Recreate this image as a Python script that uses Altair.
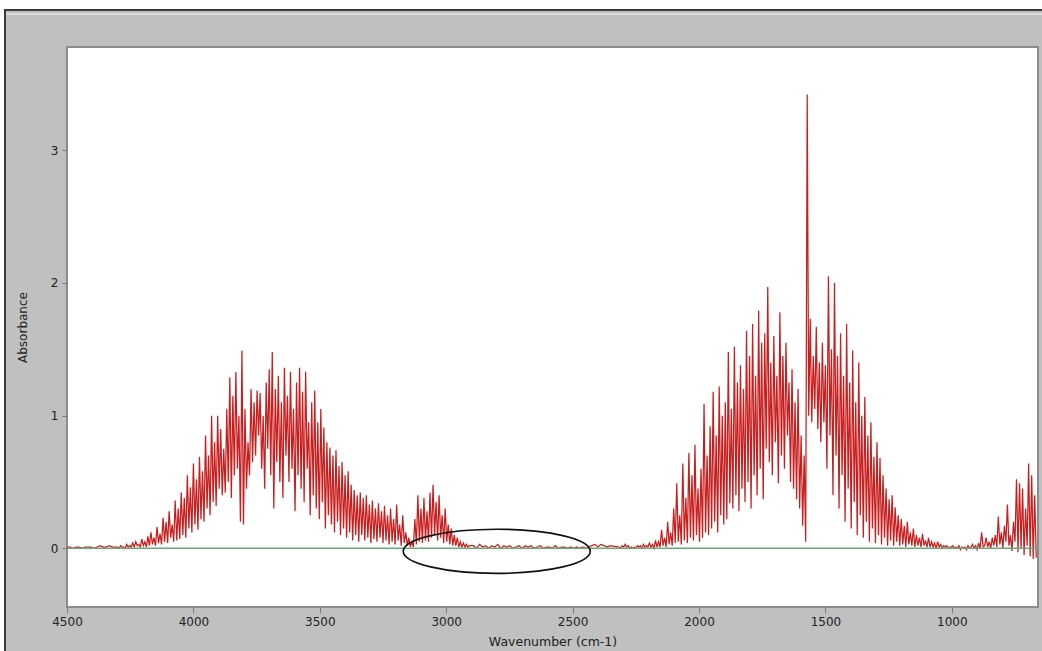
import altair as alt
import pandas as pd

# ---------------- data ----------------
# Each block: absorbance values on a regular wavenumber grid (start, step)
edge_start, edge_step = 4500, -12
edge_abs = [0.01, 0.01, 0.00, 0.01, 0.01, 0.00, 0.01, 0.01, 0.01, 0.00,
            0.01, 0.02, 0.01, 0.01, 0.02, 0.01]

band1_start, band1_step = 4300, -6
band1_abs = [
    0.01, 0.00, 0.02, 0.01, 0.01, 0.00, 0.03, 0.01, 0.02, 0.01,
    0.04, 0.01, 0.05, 0.02, 0.03, 0.01, 0.07, 0.02, 0.05, 0.01,
    0.09, 0.02, 0.12, 0.03, 0.08, 0.02, 0.16, 0.04, 0.11, 0.03,
    0.23, 0.05, 0.20, 0.04, 0.28, 0.08, 0.18, 0.05, 0.36, 0.06,
    0.30, 0.07, 0.42, 0.10, 0.38, 0.08, 0.55, 0.15, 0.46, 0.12,
    0.64, 0.18, 0.52, 0.14, 0.69, 0.22, 0.58, 0.20, 0.85, 0.30,
    0.70, 0.25, 1.00, 0.35, 0.80, 0.32, 1.00, 0.45, 0.90, 0.40,
    0.75, 0.42, 1.05, 0.50, 1.29, 0.38, 1.15, 0.55, 1.33, 0.60,
    1.00, 0.20, 1.49, 0.18, 1.05, 0.45, 0.80, 0.55, 1.20, 0.65,
    1.10, 0.70, 1.19, 0.85, 1.17, 0.60, 1.00, 0.45, 1.25, 0.75,
    1.35, 0.55, 1.48, 0.30, 1.20, 0.65, 1.30, 0.50, 1.10, 0.38,
    1.36, 0.70, 1.15, 0.50, 1.33, 0.60, 1.05, 0.28, 1.25, 0.55,
    1.36, 0.45, 1.18, 0.35, 1.33, 0.60, 0.95, 0.25, 1.10, 0.40,
    1.19, 0.30, 0.95, 0.22, 1.05, 0.35, 0.91, 0.15, 0.80, 0.25,
    0.76, 0.18, 0.70, 0.12, 0.74, 0.20, 0.62, 0.10, 0.65, 0.15,
    0.55, 0.08, 0.58, 0.12, 0.48, 0.06, 0.44, 0.10, 0.40, 0.05,
    0.42, 0.10, 0.38, 0.06, 0.40, 0.08, 0.33, 0.04, 0.36, 0.07,
    0.30, 0.05, 0.34, 0.08, 0.28, 0.04, 0.32, 0.06, 0.25, 0.03,
    0.30, 0.05, 0.22, 0.03, 0.33, 0.06, 0.18, 0.02, 0.25, 0.04,
    0.12, 0.02, 0.08, 0.01, 0.05, 0.01, 0.22, 0.03, 0.40, 0.05,
    0.30, 0.04, 0.38, 0.06, 0.28, 0.05, 0.42, 0.08, 0.48, 0.10,
    0.35, 0.06, 0.40, 0.08, 0.25, 0.04, 0.30, 0.05, 0.18, 0.03,
    0.15, 0.02, 0.10, 0.02, 0.08, 0.01, 0.05, 0.01, 0.04, 0.01,
    0.03, 0.01, 0.02,
]

gap_start, gap_step = 2892, -12
gap_abs = [0.02, 0.00, 0.03, 0.01, 0.02, 0.00, 0.02, 0.01, 0.03, 0.00,
           0.02, 0.01, 0.02, 0.00, 0.01, 0.02, 0.00, 0.02, 0.01, 0.02,
           0.00, 0.01, 0.02, 0.00, 0.01, 0.01, 0.00, 0.02, 0.00, 0.01,
           0.01, 0.00, 0.01, 0.00, 0.01, 0.00, 0.01, 0.00, 0.01, 0.02,
           0.03, 0.01, 0.03, 0.02, 0.01, 0.02]

band2_start, band2_step = 2316, -6
band2_abs = [
    0.01, 0.00, 0.02, 0.01, 0.03, 0.01, 0.02, 0.00, 0.01, 0.00,
    0.01, 0.00, 0.02, 0.01, 0.02, 0.00, 0.03, 0.01, 0.02, 0.01,
    0.04, 0.01, 0.03, 0.00, 0.06, 0.01, 0.05, 0.01, 0.14, 0.02,
    0.08, 0.01, 0.20, 0.03, 0.12, 0.02, 0.30, 0.04, 0.49, 0.05,
    0.25, 0.03, 0.64, 0.06, 0.38, 0.04, 0.72, 0.08, 0.55, 0.06,
    0.78, 0.10, 0.45, 0.05, 0.60, 0.08, 1.09, 0.12, 0.70, 0.10,
    0.92, 0.15, 1.18, 0.20, 0.85, 0.12, 1.22, 0.25, 1.00, 0.18,
    1.10, 0.22, 1.48, 0.34, 1.05, 0.30, 1.52, 0.40, 1.25, 0.28,
    1.38, 0.45, 1.20, 0.35, 1.64, 0.50, 1.45, 0.30, 1.69, 0.55,
    1.30, 0.40, 1.79, 0.60, 1.55, 0.37, 1.62, 0.75, 1.97, 0.65,
    1.40, 0.55, 1.60, 0.80, 1.30, 0.49, 1.78, 0.70, 1.45, 0.60,
    1.55, 0.85, 1.25, 0.50, 1.35, 0.45, 1.10, 0.37, 1.20, 0.30,
    0.85, 0.17, 0.70, 0.05,
    3.42,
    1.00, 1.73, 0.95, 1.45, 1.05, 1.67, 0.90, 1.40, 0.80, 1.55,
    0.95, 1.38, 0.60, 2.05, 0.85, 1.50, 0.40, 2.00, 0.70, 1.45,
    0.30, 1.62, 0.55, 1.30, 0.20, 1.69, 0.45, 1.25, 0.15, 1.49,
    0.35, 1.10, 0.10, 1.40, 0.25, 1.00, 0.08, 1.14, 0.20, 0.85,
    0.05, 0.95, 0.15, 0.69, 0.04, 0.80, 0.10, 0.68, 0.03, 0.55,
    0.08, 0.45, 0.02, 0.37, 0.06, 0.40, 0.02, 0.31, 0.05, 0.25,
    0.02, 0.22, 0.03, 0.17, 0.01, 0.20, 0.03, 0.12, 0.02, 0.15,
    0.01, 0.10, 0.02, 0.08, 0.01, 0.11, 0.02, 0.06, 0.01, 0.08,
    0.01, 0.05, 0.01, 0.04, 0.00, 0.05, 0.01, 0.03, 0.00, 0.02,
    0.01, 0.02, 0.00, 0.01, 0.01, 0.02,
]

tail_start, tail_step = 990, -6
tail_abs = [
    0.00, 0.01, 0.00, 0.02, -0.01, 0.01, 0.00, 0.01, -0.01, 0.02,
    0.00, 0.01, 0.03, 0.00, 0.02, -0.01, 0.04, 0.00, 0.12, 0.01,
    0.02, 0.08, 0.01, 0.05, 0.00, 0.08, 0.02, 0.10, 0.01, 0.24,
    0.03, 0.12, 0.00, 0.17, 0.05, 0.33, 0.02, 0.10, -0.02, 0.20,
    0.05, 0.52, -0.03, 0.49, 0.00, 0.45, -0.05, 0.30, 0.02, 0.64,
    -0.06, 0.55, -0.08, 0.40, -0.07,
]

x_ticks = [4500, 4000, 3500, 3000, 2500, 2000, 1500, 1000]
y_ticks = [0, 1, 2, 3]
x_domain = [659, 4500]
y_domain = [-0.442, 3.778]

# highlighted region (ellipse annotation)
ellipse_wn = [2800]
ellipse_abs = [-0.022]

blocks = [
    (edge_start, edge_step, edge_abs),
    (band1_start, band1_step, band1_abs),
    (gap_start, gap_step, gap_abs),
    (band2_start, band2_step, band2_abs),
    (tail_start, tail_step, tail_abs),
]
rows = []
for start, step, vals in blocks:
    for i, v in enumerate(vals):
        rows.append({"wn": start + step * i, "a": v})
spec = pd.DataFrame(rows).sort_values("wn", ascending=False).reset_index(drop=True)
spec["order"] = range(len(spec))

W, H = 971, 560
FONT = "DejaVu Sans"

xscale = alt.Scale(domain=x_domain, reverse=True, nice=False, zero=False)
yscale = alt.Scale(domain=y_domain, nice=False, zero=False)

xaxis = alt.Axis(values=x_ticks, title="Wavenumber (cm-1)", format="d",
                 grid=False, domain=False, tickColor="#7a7a7a", tickSize=6,
                 labelFlush=False, labelPadding=3, labelFont=FONT, labelFontSize=12,
                 labelColor="#222222", titleFont=FONT, titleFontSize=12.5,
                 titleFontWeight="normal", titleColor="#222222", titlePadding=8,
                 zindex=1)
yaxis = alt.Axis(values=y_ticks, title="Absorbance", format="d",
                 grid=False, domain=False, tickColor="#7a7a7a", tickSize=5,
                 labelPadding=4, labelFont=FONT, labelFontSize=12,
                 labelColor="#222222", titleFont=FONT, titleFontSize=12,
                 titleFontWeight="normal", titleColor="#222222", titlePadding=21,
                 zindex=1)

base = alt.Chart(spec)

line = base.mark_line(color="#c81e1e", strokeWidth=1.25, clip=True).encode(
    x=alt.X("wn:Q", scale=xscale, axis=xaxis),
    y=alt.Y("a:Q", scale=yscale, axis=yaxis),
    order="order:Q",
)

zero_line = alt.Chart(pd.DataFrame({"z": [0]})).mark_rule(
    color="#66aa77", strokeWidth=1.5
).encode(y=alt.Y("z:Q", scale=yscale))

ell_path = ("M -1 0 C -1 -0.131 -0.552 -0.236 0 -0.236 "
            "C 0.552 -0.236 1 -0.131 1 0 "
            "C 1 0.131 0.552 0.236 0 0.236 "
            "C -0.552 0.236 -1 0.131 -1 0 Z")
ellipse = alt.Chart(pd.DataFrame({"wn": ellipse_wn, "a": ellipse_abs})).mark_point(
    shape=ell_path, size=187 * 187, filled=False, stroke="#111111",
    strokeWidth=1.6, opacity=1
).encode(x=alt.X("wn:Q", scale=xscale), y=alt.Y("a:Q", scale=yscale))

# window frame decoration (outside the plot area)
frame_top_white = alt.Chart(pd.DataFrame({"k": [0]})).mark_rect(color="white").encode(
    x=alt.value(-67), x2=alt.value(W + 4), y=alt.value(-47), y2=alt.value(-38))
frame_left_white = alt.Chart(pd.DataFrame({"k": [0]})).mark_rect(color="white").encode(
    x=alt.value(-67), x2=alt.value(-62), y=alt.value(-47), y2=alt.value(H + 44))
frame_top = alt.Chart(pd.DataFrame({"k": [0]})).mark_rule(color="#3a3a3a", strokeWidth=2).encode(
    x=alt.value(-62), x2=alt.value(W + 4), y=alt.value(-37))
frame_top_light = alt.Chart(pd.DataFrame({"k": [0]})).mark_rule(color="#e4e4e4", strokeWidth=1.5).encode(
    x=alt.value(-61), x2=alt.value(W + 4), y=alt.value(-33))
frame_left = alt.Chart(pd.DataFrame({"k": [0]})).mark_rule(color="#3a3a3a", strokeWidth=2).encode(
    x=alt.value(-62), y=alt.value(-38), y2=alt.value(H + 44))

chart = alt.layer(
    frame_top_white, frame_left_white, frame_top, frame_top_light, frame_left,
    line, zero_line, ellipse
).properties(
    width=W, height=H,
    background="#c0c0c0",
    padding={"left": 67, "top": 47, "right": 4, "bottom": 44},
    autosize=alt.AutoSizeParams(type="none"),
).configure_view(
    fill="white", stroke="#8c8c8c", strokeWidth=2
)

chart.save("out.html", embed_options={"renderer": "svg", "actions": False})
